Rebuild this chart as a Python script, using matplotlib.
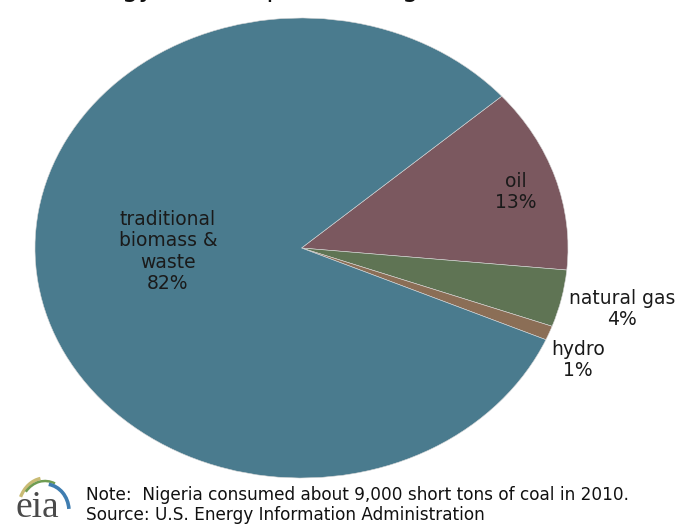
import matplotlib
matplotlib.use("Agg")
import matplotlib.pyplot as plt
from matplotlib.patches import Arc

# Nigeria energy consumption shares, 2010 (percent)
categories = ["oil", "natural gas", "hydro", "traditional\nbiomass &\nwaste"]
shares = [13, 4, 1, 82]
colors = ["#7B585F", "#5F7454", "#8B6E56", "#4A7B8E"]

title = "Total energy consumption in Nigeria, 2010"
note = "Note:  Nigeria consumed about 9,000 short tons of coal in 2010."
source = "Source: U.S. Energy Information Administration"

W, H = 678, 525
fig = plt.figure(figsize=(W / 100, H / 100), dpi=100)
fig.patch.set_facecolor("white")


def px_box(x0, y0, x1, y1):
    """Figure-fraction rectangle from pixel corners (top-left origin)."""
    return [x0 / W, 1 - y1 / H, (x1 - x0) / W, (y1 - y0) / H]


# Pie drawn in a non-square axes so it becomes an ellipse
ax = fig.add_axes(px_box(35, 18, 568, 478))
wedges, _ = ax.pie(
    shares,
    colors=colors,
    startangle=41.3,
    counterclock=False,
    radius=1.0,
    wedgeprops=dict(edgecolor="#d8d8d8", linewidth=0.4),
)
ax.set_aspect("auto")
ax.set_xlim(-1, 1)
ax.set_ylim(-1, 1)
ax.axis("off")

# Label positions in the axes' normalised coordinates
label_pos = [(0.805, 0.243), (1.203, -0.265), (1.037, -0.487), (-0.501, -0.015)]
for name, val, (lx, ly) in zip(categories, shares, label_pos):
    ax.text(lx, ly, f"{name}\n{val}%", ha="center", va="center",
            fontsize=13.5, color="#1a1a1a", linespacing=1.15, clip_on=False)

# Title sits almost entirely above the top edge
fig.text(-8 / W, 1 + 4 / H, title, ha="left", va="baseline",
         fontsize=19, color="#111111")

# Footnote
fig.text(86 / W, 1 - 495 / H, note, ha="left", va="center",
         fontsize=12.2, color="#111111")
fig.text(86 / W, 1 - 515 / H, source, ha="left", va="center",
         fontsize=12.2, color="#111111")

# EIA logo
lax = fig.add_axes(px_box(0, 468, 80, 525))
lax.set_xlim(0, 80)
lax.set_ylim(0, 57)
lax.set_aspect("equal")
lax.axis("off")
lax.add_patch(Arc((45, 14), 54, 66, theta1=98, theta2=150, color="#c9bb74", lw=2.4))
lax.add_patch(Arc((45, 14), 50, 60, theta1=70, theta2=135, color="#6f9c52", lw=1.8))
lax.add_patch(Arc((45, 14), 48, 54, theta1=5, theta2=82, color="#3f7db0", lw=2.6))
lax.text(37, 8, "eia", ha="center", va="baseline", fontsize=27,
         family="Liberation Serif", color="#4a4a4a")

fig.savefig("out.png", dpi=100, facecolor="white")
